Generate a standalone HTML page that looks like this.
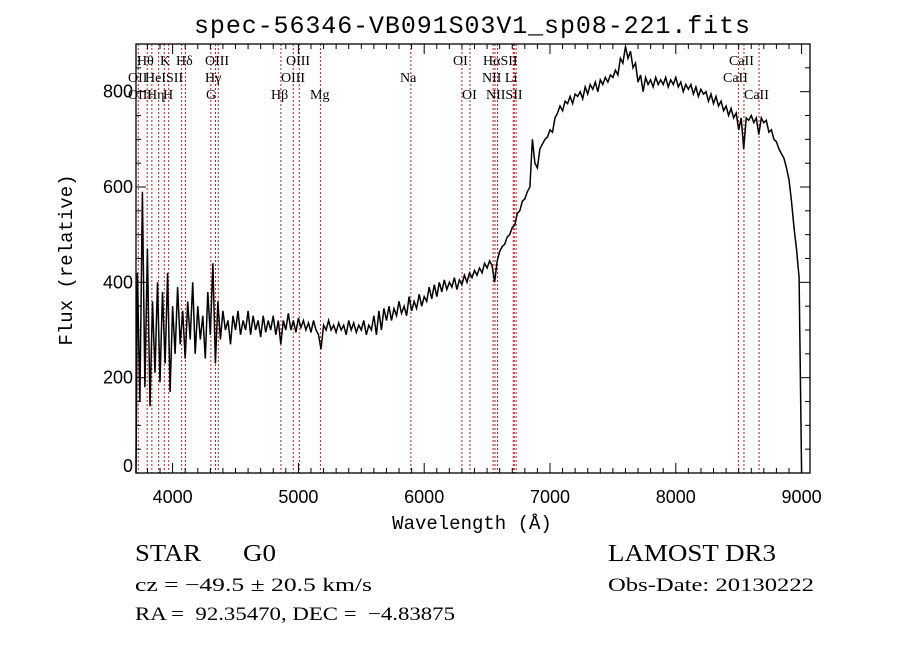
<!DOCTYPE html>
<html><head><meta charset="utf-8">
<style>
html,body{margin:0;padding:0;background:#fff;}
svg{display:block;}
.mono{font-family:"Liberation Mono",monospace;}
.ser{font-family:"Liberation Serif",serif;}
text{white-space:pre;}
</style></head>
<body>
<svg id="chart" width="900" height="649" viewBox="0 0 900 649" xmlns="http://www.w3.org/2000/svg">
<rect width="900" height="649" fill="#fff"/>
<text x="472" y="33" text-anchor="middle" class="mono" font-size="25" textLength="556">spec-56346-VB091S03V1_sp08-221.fits</text>
<g id="lines"></g>
<g id="spec"></g>
<g id="axes"></g>
<g class="ser" font-size="14">
<text x="137" y="65">Hθ</text>
<text x="160" y="65">K</text>
<text x="176" y="65">Hδ</text>
<text x="205" y="65">OIII</text>
<text x="286" y="65">OIII</text>
<text x="128" y="82">OII</text>
<text x="145" y="82">HeI</text>
<text x="166" y="82">SII</text>
<text x="205" y="82">Hγ</text>
<text x="281" y="82">OIII</text>
<text x="128" y="99">OIII</text>
<text x="147" y="99">Hη</text>
<text x="163" y="99">H</text>
<text x="206" y="99">G</text>
<text x="271" y="99">Hβ</text>
<text x="310" y="99">Mg</text>
<text x="400" y="82">Na</text>
<text x="453" y="65">OI</text>
<text x="462" y="99">OI</text>
<text x="483" y="65">HαSII</text>
<text x="482" y="82">NII Li</text>
<text x="486" y="99">NIISII</text>
<text x="729" y="65">CaII</text>
<text x="723" y="82">CaII</text>
<text x="744" y="99">CaII</text>
</g>
<text x="0" y="0" transform="translate(72,260) rotate(-90)" text-anchor="middle" class="mono" font-size="19">Flux (relative)</text>
<text x="472" y="529" text-anchor="middle" class="mono" font-size="19">Wavelength (Å)</text>
<text x="135" y="561" class="ser" font-size="24" textLength="66" lengthAdjust="spacingAndGlyphs">STAR</text>
<text x="243" y="561" class="ser" font-size="24" textLength="33" lengthAdjust="spacingAndGlyphs">G0</text>
<text x="135" y="591" class="ser" font-size="19" textLength="237" lengthAdjust="spacingAndGlyphs">cz = −49.5 ± 20.5 km/s</text>
<text x="135" y="620" class="ser" font-size="19" textLength="320" lengthAdjust="spacingAndGlyphs">RA =  92.35470, DEC =  −4.83875</text>
<text x="608" y="561" class="ser" font-size="24" textLength="168" lengthAdjust="spacingAndGlyphs">LAMOST DR3</text>
<text x="608" y="591" class="ser" font-size="19" textLength="206" lengthAdjust="spacingAndGlyphs">Obs-Date: 20130222</text>
</svg>
<script>
const waveStart = 3700;
const waveStep = 20;
const flux = [
0,420,150,590,180,
470,140,360,210,400,190,380,230,420,170,
350,250,390,270,340,240,360,280,400,250,
350,280,330,240,380,290,440,230,360,280,
340,300,320,270,330,300,340,290,320,300,
340,290,330,300,320,285,330,295,320,300,
330,290,320,270,320,300,335,300,320,295,
325,305,320,300,315,295,320,300,290,260,
310,300,320,300,310,295,315,300,310,290,
320,300,315,295,310,300,320,290,310,300,
330,290,340,300,345,320,350,320,345,330,
360,335,350,330,370,340,360,345,375,350,
370,360,390,365,395,370,400,380,405,385,
400,390,410,385,405,395,415,400,420,410,
425,415,430,420,440,430,445,435,400,445,
465,475,480,495,500,515,520,545,550,570,
575,590,600,700,650,640,680,690,700,705,
720,715,745,755,770,760,780,775,790,775,
795,790,800,785,810,795,815,805,820,800,
825,815,830,820,835,830,845,835,870,860,
895,870,885,850,860,820,835,800,830,815,
825,810,830,815,825,815,830,810,825,815,
830,810,820,800,815,805,815,795,810,790,
805,795,800,780,795,775,790,770,780,760,
770,750,765,745,755,720,745,680,745,740,
750,735,745,710,745,735,740,715,720,700,
695,680,670,660,640,615,570,515,470,410,
0];
const lineWaves = [3727,3798,3835,3889,3934,3969,4072,4102,4304,4341,4363,4861,4959,5007,5175,5894,6300,6364,6548,6563,6583,6708,6716,6731,8498,8542,8662];
const xTicks = [4000,5000,6000,7000,8000,9000];
const yTicks = [0,200,400,600,800];

const NS = 'http://www.w3.org/2000/svg';
const L = 136, R = 810, T = 44, B = 473;
const xMin = 3709, xMax = 9067, yMin = 0, yMax = 900;
function xs(w){ return L + (w - xMin) / (xMax - xMin) * (R - L); }
function ys(v){ return B - (v - yMin) / (yMax - yMin) * (B - T); }
function mk(tag, attrs, parent){
  const e = document.createElementNS(NS, tag);
  for (const k in attrs) e.setAttribute(k, attrs[k]);
  parent.appendChild(e); return e;
}
const gl = document.getElementById('lines');
lineWaves.forEach(w => {
  const ln = mk('line', {x1:xs(w), x2:xs(w), y1:T, y2:B, stroke:'#b22222', 'stroke-width':1, 'stroke-dasharray':'2,2'}, gl);
  
  
});
const gs = document.getElementById('spec');
let d = '';
flux.forEach((v, i) => {
  const w = waveStart + i * waveStep;
  const x = Math.max(L, xs(w));
  const y = Math.max(T, ys(v));
  d += (i ? 'L' : 'M') + x.toFixed(1) + ',' + y.toFixed(1);
});
const p = mk('path', {d:d, fill:'none', stroke:'#000', 'stroke-width':1.5}, gs);



const ga = document.getElementById('axes');
const fr = mk('rect', {x:L, y:T, width:R-L, height:B-T, fill:'none', stroke:'#000', 'stroke-width':1.3}, ga);


for (let w = 3800; w <= xMax; w += 100) {
  const major = w % 1000 === 0;
  const len = major ? 10 : 5;
  mk('line', {x1:xs(w), x2:xs(w), y1:B, y2:B-len, stroke:'#000', 'stroke-width':1}, ga);
  mk('line', {x1:xs(w), x2:xs(w), y1:T, y2:T+len, stroke:'#000', 'stroke-width':1}, ga);
}
xTicks.forEach(w => {
  const t = mk('text', {x:xs(w), y:503, 'text-anchor':'middle', 'font-size':18, 'font-family':'Liberation Sans, sans-serif'}, ga);
  t.textContent = w;
  
  
});
for (let v = 0; v <= yMax; v += 50) {
  const major = v % 200 === 0;
  const len = major ? 10 : 5;
  mk('line', {x1:L, x2:L+len, y1:ys(v), y2:ys(v), stroke:'#000', 'stroke-width':1}, ga);
  mk('line', {x1:R, x2:R-len, y1:ys(v), y2:ys(v), stroke:'#000', 'stroke-width':1}, ga);
}
yTicks.forEach(v => {
  const t = mk('text', {x:133, y:Math.min(ys(v)+6, 472), 'text-anchor':'end', 'font-size':18, 'font-family':'Liberation Sans, sans-serif'}, ga);
  t.textContent = v;
  
  
});
</script>
</body></html>
